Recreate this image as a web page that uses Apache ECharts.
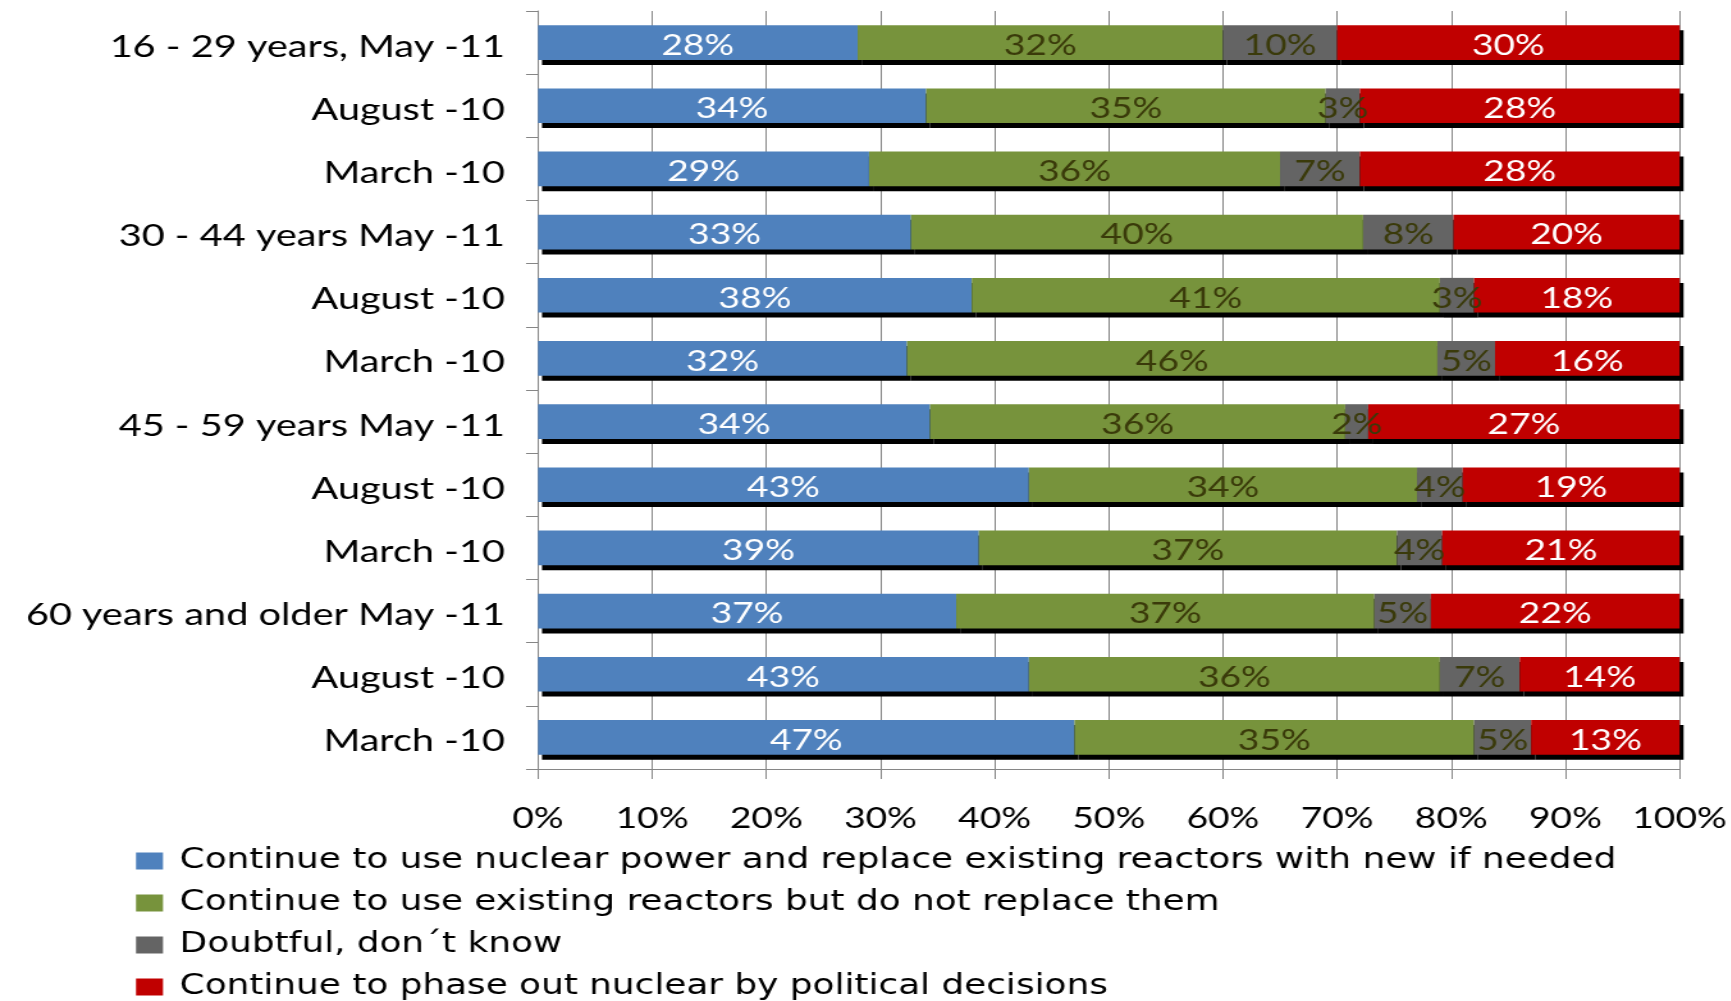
<!DOCTYPE html>
<html>
<head>
<meta charset="utf-8">
<script src="https://cdn.jsdelivr.net/npm/echarts@6/dist/echarts.min.js"></script>
<style>
html,body{margin:0;padding:0;background:#fff;overflow:hidden;}
#wrap{width:1731px;height:1001px;overflow:hidden;position:relative;}
#chart{position:absolute;left:0;top:0;height:1001px;transform-origin:0 0;}
</style>
</head>
<body>
<div id="wrap"><div id="chart"></div></div>
<script>
const categories = ["16 - 29 years, May -11","August -10","March -10","30 - 44 years May -11","August -10","March -10","45 - 59 years May -11","August -10","March -10","60 years and older May -11","August -10","March -10"];
const seriesNames = ["Continue to use nuclear power and replace existing reactors with new if needed","Continue to use existing reactors but do not replace them","Doubtful, don\u00b4t know","Continue to phase out nuclear by political decisions"];
const replaceNew = [28,34,29,33,38,32,34,43,39,37,43,47];
const keepExisting = [32,35,36,40,41,46,36,34,37,37,36,35];
const doubtful = [10,3,7,8,3,5,2,4,4,5,7,5];
const phaseOut = [30,28,28,20,18,16,27,19,21,22,14,13];
const xTicks = [0,10,20,30,40,50,60,70,80,90,100];

const S = 1.28; // horizontal stretch of the original picture
const chartEl = document.getElementById('chart');
chartEl.style.width = (1731 / S) + 'px';
chartEl.style.transform = 'scaleX(' + S + ')';

const raw = [replaceNew, keepExisting, doubtful, phaseOut];
const totals = categories.map((c, i) => raw.reduce((a, s) => a + s[i], 0));
const colors = ['#4f81bd', '#77933c', '#646464', '#c00000'];
const labelColors = ['#ffffff', '#3a3a0a', '#3a3a0a', '#ffffff'];
const FONT = 'Lato';

const chart = echarts.init(chartEl, null, {renderer: 'canvas'});
chart.setOption({
  animation: false,
  backgroundColor: '#ffffff',
  grid: {left: 538 / S, right: (1731 - 1680) / S, top: 11, bottom: 1001 - 769, containLabel: false},
  legend: {
    orient: 'vertical', left: 136 / S, top: 847, height: 160, padding: 0,
    itemWidth: 27 / S, itemHeight: 17, itemGap: 14,
    icon: 'rect',
    textStyle: {fontFamily: 'DejaVu Sans', fontSize: 28, color: '#000', padding: [0, 0, 0, 8]},
    data: seriesNames
  },
  xAxis: {
    type: 'value', min: 0, max: 100, interval: 10,
    axisLine: {show: true, lineStyle: {color: '#868686', width: 1}},
    axisTick: {show: true, length: 10, lineStyle: {color: '#868686'}},
    splitLine: {show: true, lineStyle: {color: '#868686', width: 1}},
    axisLabel: {margin: 35, fontFamily: FONT, fontSize: 29, color: '#000',
      formatter: v => xTicks.indexOf(v) >= 0 ? v + '%' : ''}
  },
  yAxis: {
    type: 'category', inverse: true, data: categories,
    axisLine: {show: true, lineStyle: {color: '#868686', width: 1}},
    axisTick: {show: true, length: 12 / S, lineStyle: {color: '#868686'}},
    axisLabel: {margin: 33 / S, color: '#000',
      formatter: v => '{c|' + v + '}',
      rich: {c: {fontFamily: FONT, fontSize: 31, color: '#000', padding: [8, 0, 0, 0]}}}
  },
  series: raw.map((arr, k) => ({
    name: seriesNames[k], type: 'bar', stack: 'total', barWidth: '55%',
    data: arr.map((v, i) => v / totals[i] * 100),
    itemStyle: {color: colors[k], shadowColor: '#000', shadowBlur: 0, shadowOffsetX: 4 / S, shadowOffsetY: 5},
    label: {show: true, position: 'inside', fontFamily: FONT, fontSize: 29, color: labelColors[k],
      offset: [0, 3], formatter: p => arr[p.dataIndex] + '%'}
  }))
});
</script>
</body>
</html>
